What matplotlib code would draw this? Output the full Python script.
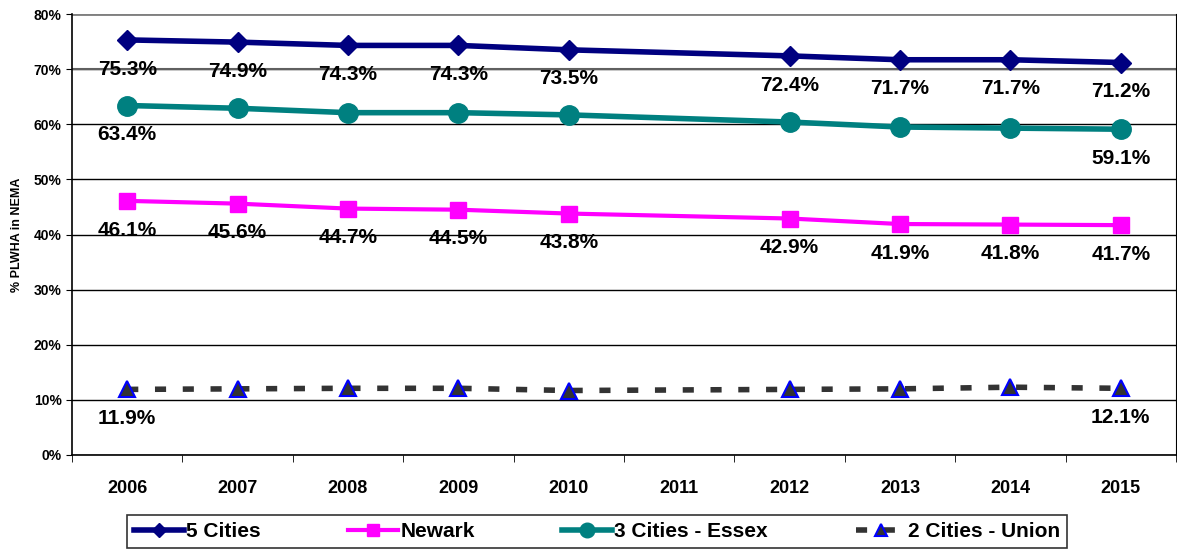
import matplotlib.pyplot as plt
import numpy as np

years = ["2006", "2007", "2008", "2009", "2010", "2011", "2012", "2013", "2014", "2015"]
data_years = ["2006", "2007", "2008", "2009", "2010", "2012", "2013", "2014", "2015"]

five_cities = [75.3, 74.9, 74.3, 74.3, 73.5, 72.4, 71.7, 71.7, 71.2]
newark = [46.1, 45.6, 44.7, 44.5, 43.8, 42.9, 41.9, 41.8, 41.7]
essex = [63.4, 62.9, 62.1, 62.1, 61.7, 60.4, 59.5, 59.3, 59.1]
union = [11.9, 12.0, 12.1, 12.1, 11.7, 11.9, 12.0, 12.3, 12.1]

plt.rcParams['font.family'] = ['Liberation Sans', 'DejaVu Sans']
plt.rcParams['font.weight'] = 'bold'

fig = plt.figure(figsize=(11.77, 5.52), dpi=100)
ax = fig.add_axes([72 / 1177, 1 - 455 / 552, 1104 / 1177, 441 / 552])

x = np.array([years.index(y) for y in data_years])

ax.plot(x, five_cities, color="#000080", lw=4, marker="D", ms=10, label="5 Cities", zorder=4)
ax.plot(x, newark, color="#FF00FF", lw=3, marker="s", ms=12, label="Newark", zorder=4)
ax.plot(x, essex, color="#008080", lw=4, marker="o", ms=14, label="3 Cities - Essex", zorder=4)
ax.plot(x, union, color="#333333", lw=4, ls=(0, (2, 3)), marker="^", ms=12,
        mfc="#333333", mec="#0000FF", mew=1.5, label="2 Cities - Union", zorder=4)

lab_kw = dict(ha="center", va="center", fontsize=15, fontweight="bold", zorder=5)
off = (0, -21)
for xi, v in zip(x, five_cities):
    ax.annotate(f"{v:.1f}%", (xi, v), xytext=off, textcoords="offset points", **lab_kw)
for xi, v in zip(x, newark):
    ax.annotate(f"{v:.1f}%", (xi, v), xytext=off, textcoords="offset points", **lab_kw)
for i in [0, len(x) - 1]:
    ax.annotate(f"{essex[i]:.1f}%", (x[i], essex[i]), xytext=off, textcoords="offset points", **lab_kw)
    ax.annotate(f"{union[i]:.1f}%", (x[i], union[i]), xytext=off, textcoords="offset points", **lab_kw)

ax.set_xlim(-0.5, len(years) - 0.5)
ax.set_ylim(0, 80)
ax.set_yticks(range(0, 81, 10))
ax.set_yticklabels([f"{v}%" for v in range(0, 81, 10)], fontsize=10, fontweight="bold")
ax.set_xticks(range(len(years)))
ax.set_xticklabels(years, fontsize=13, fontweight="bold")
ax.set_xticks(np.arange(-0.5, len(years), 1), minor=True)
ax.tick_params(axis="x", which="major", length=0, pad=18)
ax.tick_params(axis="x", which="minor", length=5, direction="out")
ax.tick_params(axis="y", length=4, direction="out")
ax.grid(axis="y", color="#000000", lw=1)
ax.set_axisbelow(True)
ax.spines["top"].set_visible(False)
ax.spines["right"].set_color("#000000")
ax.spines["left"].set_linewidth(1.2)
ax.spines["bottom"].set_linewidth(1.2)
ax.axhline(80, color="#808080", lw=2, zorder=1)
ax.axhline(70, color="#606060", lw=1.5, zorder=1)
ax.set_ylabel("% PLWHA in NEMA", fontsize=9, fontweight="bold", labelpad=8)

leg = fig.legend(loc="lower center", bbox_to_anchor=(597 / 1177, -0.012), ncol=4, frameon=True,
                 fancybox=False, edgecolor="#000000", prop={"size": 15, "weight": "bold"},
                 columnspacing=4.2, handlelength=2.4, handletextpad=0.1, markerscale=0.75,
                 borderpad=0.35)
leg.get_frame().set_linewidth(1.2)

fig.savefig("out.png", dpi=100)
